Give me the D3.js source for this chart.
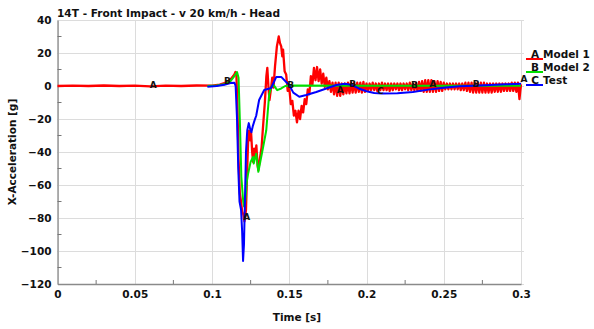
<!DOCTYPE html>
<html>
<head>
<meta charset="utf-8">
<script src="https://cdn.jsdelivr.net/npm/d3@7/dist/d3.min.js"></script>
<style>
  body { margin: 0; background: #fff; }
  text { font-family: "DejaVu Sans", sans-serif; font-weight: bold; fill: #111; }
</style>
</head>
<body>
<svg id="chart"></svg>
<script>
// chart text / ticks
const title = '14T - Front Impact - v 20 km/h - Head';
const xLabel = 'Time [s]';
const yLabel = 'X-Acceleration [g]';
const xTicks = [0, 0.05, 0.1, 0.15, 0.2, 0.25, 0.3];
const xMinorTicks = [0.025, 0.075, 0.125, 0.175, 0.225, 0.275];
const yTicks = [40, 20, 0, -20, -40, -60, -80, -100, -120];
const yMinorTicks = [30, 10, -10, -30, -50, -70, -90, -110];

const seriesNames = ['Model 1', 'Model 2', 'Test'];
const seriesTags = ['A', 'B', 'C'];
const seriesColors = ['#ff0000', '#00e000', '#0000ff'];
const seriesWidths = [2.3, 2, 2];

// Model 1 (A) - [time, accel] up to the noisy tail
const model1Head = [
    [0, 0], [0.01, 0.2], [0.02, 0], [0.03, 0.3], [0.04, 0], [0.05, 0.2],
    [0.06, -0.2], [0.07, 0.2], [0.08, 0], [0.09, 0.3], [0.1, 0.2],
    [0.105, 0.8], [0.109, 2], [0.112, 4], [0.1145, 7], [0.1152, 8.5],
    [0.1158, 7], [0.1165, -15], [0.1172, -45], [0.118, -65], [0.1188, -70],
    [0.1195, -76], [0.1203, -78], [0.121, -82], [0.1215, -79], [0.122, -75],
    [0.1228, -50], [0.1235, -30], [0.124, -27], [0.1247, -33], [0.1253, -28],
    [0.126, -40], [0.1266, -46], [0.1273, -38], [0.128, -43], [0.1287, -36],
    [0.1295, -48], [0.13, -51], [0.131, -44], [0.1321, -37], [0.133, -25],
    [0.1342, -10], [0.1352, 6], [0.1358, 11], [0.1365, 0], [0.1372, -8.5],
    [0.138, -3], [0.139, 5], [0.1398, -1], [0.1408, 12], [0.142, 24],
    [0.1432, 30], [0.144, 26], [0.1448, 24], [0.1455, 18]
];
// Model 1 noisy tail, sampled every 1 ms from 0.146 s
const model1TailStart = 0.146;
const model1TailStep = 0.001;
const model1Tail = [
    22, 9, 7, -3, -1, -11, -9, -18, -15, -22,
    -15, -20, -12, -16, -8, -11, -2, -5, 6, 1,
    11, 3.5, 11.5, 3, 10, 1.5, 7.5, -0.5, 5, -2,
    3, -3.5, 2, -5, 2, -6, 2, -6, 1.5, -5,
    1.5, -4.5, 2, -4.5, 2, -4, 2, -4, 2, -3.5,
    2, -4, 2.5, -3.5, 1.5, -3, 1.5, -2.5, 2, -2.5,
    1.5, -3, 1.5, -2.5, 2, -2.5, 1.5, -2.5, 1.5, -3,
    1.5, -2.5, 1.5, -2, 1.5, -2.5, 1.5, -2.5, 1.5, -2,
    1.5, -2.5, 2, -2.5, 1.5, -2.5, 2, -3, 2.5, -3,
    3, -3.5, 3.5, -3.5, 3.5, -3.5, 3.5, -3.5, 3, -3.5,
    3, -3, 2.5, -3, 2, -2, 1.5, -2, 1.5, -2,
    1.5, -2, 1.5, -2, 1.5, -2.5, 1.5, -2.5, 2, -3,
    2, -3.5, 2, -4, 2, -4, 2, -4, 2, -4,
    2, -4, 1.5, -4, 1.5, -4, 1.5, -3.5, 1.5, -3.5,
    1.5, -3.5, 1.5, -3, 1.5, -3, 1.5, -3, 2, -3,
    2, -3.5, 2, -8, 1
];

// Model 2 (B)
const model2 = [
    [0.097, 0], [0.103, 0.3], [0.108, 1], [0.112, 3], [0.1145, 6],
    [0.1162, 8.5], [0.1172, 5], [0.118, -20], [0.119, -55], [0.1202, -70],
    [0.1208, -73], [0.1215, -70], [0.1225, -58], [0.1234, -53], [0.125, -46],
    [0.1266, -43], [0.127, -47], [0.1286, -41], [0.13, -52], [0.1331, -37],
    [0.1351, -27], [0.137, -5], [0.1383, -1], [0.1396, 1], [0.1422, -2.5],
    [0.1448, -1.5], [0.1474, 0], [0.1513, 0.3], [0.2, 0.2], [0.25, 0.2], [0.3, 0.2]
];

// Test (C)
const test = [
    [0.097, -0.5], [0.103, 0], [0.108, 0.7], [0.112, 1.8], [0.1145, 2],
    [0.1153, 0], [0.1162, -20], [0.117, -50], [0.1178, -70], [0.1188, -75],
    [0.1195, -88], [0.1201, -106], [0.1207, -96], [0.1213, -70], [0.122, -40],
    [0.1228, -27], [0.1238, -22.5], [0.1247, -26], [0.1255, -28], [0.1265, -24],
    [0.1275, -21], [0.1286, -18], [0.1305, -8.5], [0.1338, -2.4], [0.1383, -1.2],
    [0.1416, 5.5], [0.1448, 5.5], [0.148, 2.4], [0.15, 0.6], [0.1526, -4],
    [0.1565, -6.5], [0.161, -5.5], [0.1675, -3.6], [0.1805, 0.6], [0.186, 1.3],
    [0.19, 0.8], [0.195, -1.5], [0.2, -3.2], [0.205, -4.3], [0.21, -4.6],
    [0.22, -4.4], [0.23, -3.6], [0.24, -2.2], [0.25, -1], [0.26, -0.2],
    [0.27, 0.2], [0.28, 0.6], [0.29, 1], [0.3, 1.3]
];

// curve tag letters [time, accel]
const model1Tags = [[0.062, 1], [0.1225, -79], [0.183, -2], [0.243, 1.5], [0.302, 4.5]];
const model2Tags = [[0.11, 3.5], [0.151, 1], [0.191, 1.5], [0.231, 1], [0.271, 1.5]];
const testTags = [[0.209, -3]];

const width = 594;
const height = 329;
const marginLeft = 57.5;
const marginRight = 73;
const marginTop = 20;
const marginBottom = 45;

const model1 = model1Head.concat(
    model1Tail.map((v, i) => [model1TailStart + i * model1TailStep, v])
);
const seriesData = [model1, model2, test];
const tagData = [model1Tags, model2Tags, testTags];

const x = d3.scaleLinear()
    .domain([0, 0.3])
    .range([marginLeft, width - marginRight]);
const y = d3.scaleLinear()
    .domain([-120, 40])
    .range([height - marginBottom, marginTop]);

const svg = d3.select('#chart').attr('width', width).attr('height', height);

// grid
const grid = svg.append('g').attr('stroke', '#dcdcdc').attr('stroke-width', 1);
grid.selectAll('.gx').data(xTicks).join('line')
    .attr('x1', (d) => Math.round(x(d)) + 0.5).attr('x2', (d) => Math.round(x(d)) + 0.5)
    .attr('y1', y(40)).attr('y2', y(-120));
grid.selectAll('.gy').data(yTicks).join('line')
    .attr('x1', x(0)).attr('x2', x(0.3) + 3)
    .attr('y1', (d) => Math.round(y(d)) + 0.5).attr('y2', (d) => Math.round(y(d)) + 0.5);

// axes
const xAxis = svg.append('g')
    .attr('transform', `translate(0,${y(-120)})`)
    .call(d3.axisBottom(x).tickValues(xTicks).tickSize(0).tickPadding(7)
        .tickFormat((d) => String(d)));
const yAxis = svg.append('g')
    .attr('transform', `translate(${x(0)},0)`)
    .call(d3.axisLeft(y).tickValues(yTicks).tickSize(0).tickPadding(6));
[xAxis, yAxis].forEach((a) => {
    a.select('.domain').attr('stroke', '#8a8a8a').attr('stroke-width', 1.3);
    a.selectAll('text').attr('font-size', 10.5).attr('fill', '#111')
        .attr('font-family', '"DejaVu Sans", sans-serif').attr('font-weight', 'bold');
});

// minor ticks, inside
svg.append('g').selectAll('line').data(xMinorTicks).join('line')
    .attr('x1', (d) => x(d)).attr('x2', (d) => x(d))
    .attr('y1', y(-120)).attr('y2', y(-120) - 4)
    .attr('stroke', '#777');
svg.append('g').selectAll('line').data(yMinorTicks).join('line')
    .attr('x1', x(0)).attr('x2', x(0) + 4)
    .attr('y1', (d) => y(d)).attr('y2', (d) => y(d))
    .attr('stroke', '#777');

// title and axis labels
svg.append('text').attr('x', 57).attr('y', 17).attr('font-size', 10.6).text(title);
svg.append('text').attr('x', 297).attr('y', 321).attr('text-anchor', 'middle')
    .attr('font-size', 10.5).text(xLabel);
svg.append('text')
    .attr('transform', `translate(16,${(y(40) + y(-120)) / 2}) rotate(-90)`)
    .attr('text-anchor', 'middle').attr('font-size', 10.5).text(yLabel);

// curves
const line = d3.line().x((d) => x(d[0])).y((d) => y(d[1]));
svg.append('g').selectAll('path').data(seriesData).join('path')
    .attr('d', line)
    .attr('fill', 'none')
    .attr('stroke', (d, i) => seriesColors[i])
    .attr('stroke-width', (d, i) => seriesWidths[i])
    .attr('stroke-linejoin', 'round');

// tag letters on curves
tagData.forEach((tags, i) => {
    svg.append('g').selectAll('text').data(tags).join('text')
        .attr('x', (d) => x(d[0]))
        .attr('y', (d) => y(d[1]) + 3.5)
        .attr('text-anchor', 'middle')
        .attr('font-size', 9)
        .text(seriesTags[i]);
});

// legend
const legend = svg.append('g').attr('transform', `translate(526,59)`);
seriesNames.forEach((name, i) => {
    const row = legend.append('g').attr('transform', `translate(0,${i * 13})`);
    row.append('line').attr('x1', 0).attr('x2', 17).attr('y1', 0).attr('y2', 0)
        .attr('stroke', seriesColors[i]).attr('stroke-width', 2);
    row.append('text').attr('x', 9).attr('y', -1).attr('text-anchor', 'middle')
        .attr('font-size', 10.5).text(seriesTags[i]);
    row.append('text').attr('x', 17).attr('y', -1).attr('font-size', 10.5).text(name);
});
</script>
</body>
</html>
